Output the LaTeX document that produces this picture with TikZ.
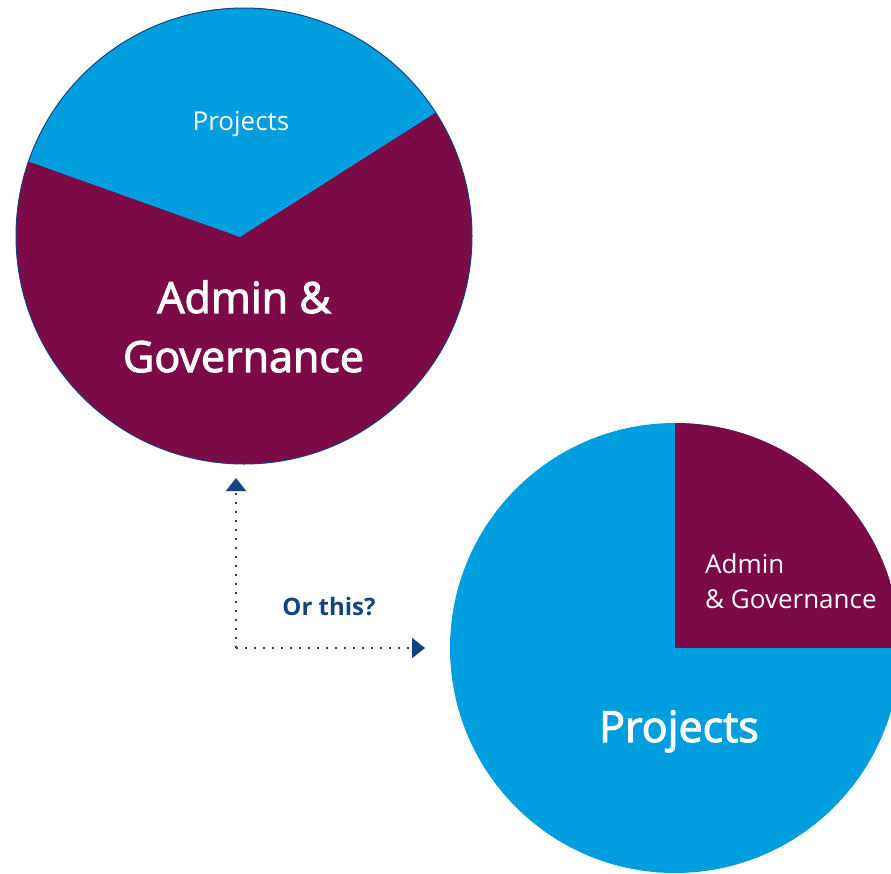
\documentclass[tikz,border=0pt]{standalone}
\usepackage{fontspec}
\setmainfont{Open Sans}
\newfontfamily\semib{Open Sans}[FakeBold=2.5]
\usetikzlibrary{arrows.meta}
\definecolor{pblue}{RGB}{0,158,223}
\definecolor{ppurple}{RGB}{124,10,70}
\definecolor{pnavy}{RGB}{18,68,132}
\begin{document}
\begin{tikzpicture}[x=1pt,y=-1pt,
  wlabel/.style={text=white, inner sep=0pt, anchor=base},
  wlabelleft/.style={text=white, inner sep=0pt, anchor=base west},
  dotline/.style={pnavy, line width=2.2pt, dash pattern=on 2.2pt off 6.8pt},
  tipstyle/.style={-{Triangle[width=20pt,length=13pt]}}]
\useasboundingbox (0,0) rectangle (891,873);
\clip (0,0) rectangle (891,873);
% circle 1
\coordinate (c1) at (244,236);
\fill[ppurple] (c1) circle[radius=228];
\begin{scope}
  \clip (c1) circle[radius=228];
  \fill[pblue] (240,237) -- (-75,124.5) -- (-75,-50) -- (560,-50) -- (532.5,51) -- cycle;
\end{scope}
\draw[pnavy, line width=1pt] (c1) circle[radius=228];
\node[wlabel, font=\fontsize{26}{30}\selectfont] (p1) at (241,130) {Projects};
\node[wlabel, font=\semib\fontsize{43}{50}\selectfont] (a1) at (244,313) {Admin \&};
\node[wlabel, font=\semib\fontsize{43}{50}\selectfont] (g1) at (243.5,372) {Governance};
% circle 2
\coordinate (c2) at (675,648);
\fill[pblue] (c2) circle[radius=225];
\begin{scope}
  \clip (c2) circle[radius=225];
  \fill[ppurple] (c2) rectangle (1000,300);
\end{scope}
\node[wlabelleft, font=\fontsize{26}{30}\selectfont] (a2) at (705,573) {Admin};
\node[wlabelleft, font=\fontsize{26}{30}\selectfont] (g2) at (705,608) {\& Governance};
\node[wlabel, font=\semib\fontsize{43}{50}\selectfont] (p2) at (679,742) {Projects};
% connector
\coordinate (corner) at (236,648);
\coordinate (uptip) at (236,478);
\coordinate (righttip) at (425,648);
\draw[dotline, tipstyle] (corner) -- (uptip);
\draw[dotline, tipstyle] (corner) -- (righttip);
\node[text=pnavy, inner sep=0pt, anchor=base, font=\bfseries\fontsize{24}{28}\selectfont] (q) at (329,615) {Or this?};
\end{tikzpicture}
\end{document}
